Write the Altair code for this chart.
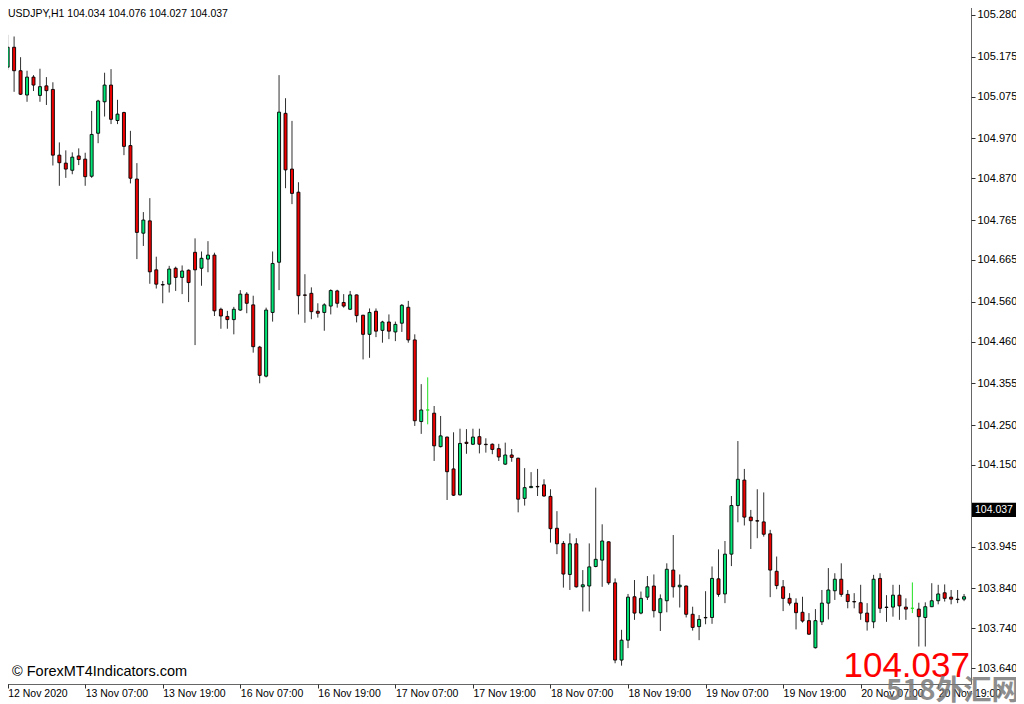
import altair as alt
import pandas as pd

# ---- data (USDJPY H1) ----
opens = [105.149, 105.199, 105.140, 105.079, 105.124, 105.078, 105.102, 105.093, 104.928, 104.908,
         104.890, 104.926, 104.918, 104.875, 104.983, 105.062, 105.104, 105.015, 105.035, 104.952,
         104.868, 104.732, 104.763, 104.640, 104.603, 104.604, 104.644, 104.621, 104.639, 104.684,
         104.644, 104.667, 104.677, 104.541, 104.523, 104.515, 104.539, 104.579, 104.552, 104.446,
         104.373, 104.533, 104.659, 105.033, 104.893, 104.835, 104.577, 104.581, 104.536, 104.533,
         104.549, 104.587, 104.558, 104.541, 104.577, 104.526, 104.478, 104.536, 104.488, 104.509,
         104.484, 104.506, 104.546, 104.464, 104.259, 104.288, 104.280, 104.196, 104.220, 104.140,
         104.075, 104.207, 104.202, 104.221, 104.202, 104.202, 104.191, 104.152, 104.175, 104.167,
         104.066, 104.093, 104.096, 104.100, 104.071, 103.991, 103.953, 103.875, 103.952, 103.844,
         103.846, 103.895, 103.911, 103.957, 103.854, 103.660, 103.710, 103.819, 103.778, 103.818,
         103.846, 103.779, 103.809, 103.886, 103.844, 103.846, 103.775, 103.744, 103.767, 103.767,
         103.864, 103.826, 103.926, 104.048, 104.112, 104.019, 104.010, 104.007, 103.977, 103.883,
         103.844, 103.815, 103.803, 103.780, 103.759, 103.691, 103.756, 103.803, 103.834, 103.863,
         103.825, 103.807, 103.804, 103.778, 103.756, 103.865, 103.793, 103.793, 103.823, 103.793,
         103.790, 103.788, 103.767, 103.794, 103.809, 103.829, 103.818, 103.813, 103.813]
highs = [105.230, 105.226, 105.174, 105.140, 105.129, 105.145, 105.124, 105.111, 104.960, 104.940,
         104.935, 104.945, 104.934, 105.039, 105.067, 105.135, 105.144, 105.067, 105.037, 104.989,
         104.908, 104.785, 104.820, 104.673, 104.612, 104.650, 104.648, 104.651, 104.641, 104.719,
         104.686, 104.712, 104.683, 104.545, 104.537, 104.547, 104.589, 104.584, 104.575, 104.449,
         104.545, 104.686, 105.129, 105.071, 105.014, 104.860, 104.629, 104.596, 104.556, 104.556,
         104.591, 104.590, 104.579, 104.587, 104.578, 104.527, 104.543, 104.543, 104.512, 104.528,
         104.510, 104.554, 104.562, 104.478, 104.353, 104.370, 104.298, 104.273, 104.221, 104.232,
         104.241, 104.240, 104.241, 104.241, 104.217, 104.204, 104.203, 104.206, 104.190, 104.168,
         104.142, 104.132, 104.140, 104.114, 104.089, 104.034, 103.959, 103.978, 103.966, 103.886,
         103.953, 104.093, 104.001, 103.958, 103.865, 103.736, 103.826, 103.861, 103.832, 103.871,
         103.875, 103.825, 103.903, 103.974, 103.875, 103.847, 103.794, 103.773, 103.833, 103.895,
         103.938, 103.959, 104.072, 104.210, 104.140, 104.037, 104.089, 104.081, 103.987, 103.920,
         103.861, 103.828, 103.815, 103.819, 103.778, 103.788, 103.836, 103.891, 103.878, 103.903,
         103.836, 103.828, 103.849, 103.803, 103.874, 103.878, 103.823, 103.849, 103.849, 103.815,
         103.855, 103.804, 103.805, 103.853, 103.849, 103.850, 103.836, 103.836, 103.826]
lows = [105.142, 105.087, 105.079, 105.062, 105.089, 105.062, 105.054, 104.902, 104.851, 104.871,
        104.880, 104.903, 104.851, 104.871, 104.958, 105.025, 105.006, 105.006, 104.928, 104.857,
        104.667, 104.700, 104.605, 104.593, 104.556, 104.583, 104.587, 104.579, 104.559, 104.451,
        104.600, 104.634, 104.524, 104.492, 104.492, 104.478, 104.537, 104.531, 104.432, 104.355,
        104.370, 104.510, 104.589, 104.845, 104.805, 104.528, 104.507, 104.516, 104.520, 104.487,
        104.528, 104.545, 104.545, 104.539, 104.508, 104.415, 104.419, 104.471, 104.457, 104.466,
        104.461, 104.484, 104.457, 104.248, 104.228, 104.252, 104.160, 104.194, 104.062, 104.072,
        104.073, 104.178, 104.200, 104.179, 104.181, 104.177, 104.160, 104.150, 104.158, 104.031,
        104.048, 104.092, 104.072, 104.070, 103.955, 103.926, 103.842, 103.836, 103.842, 103.782,
        103.782, 103.893, 103.844, 103.849, 103.652, 103.646, 103.690, 103.761, 103.775, 103.811,
        103.767, 103.733, 103.780, 103.817, 103.792, 103.767, 103.734, 103.710, 103.750, 103.751,
        103.819, 103.803, 103.896, 104.006, 103.998, 103.939, 103.966, 103.970, 103.818, 103.838,
        103.783, 103.797, 103.737, 103.754, 103.723, 103.689, 103.748, 103.762, 103.811, 103.819,
        103.790, 103.790, 103.761, 103.734, 103.740, 103.778, 103.756, 103.769, 103.761, 103.761,
        103.778, 103.694, 103.694, 103.793, 103.800, 103.807, 103.800, 103.803, 103.808]
closes = [105.199, 105.140, 105.081, 105.124, 105.104, 105.100, 105.090, 104.928, 104.909, 104.893,
          104.923, 104.917, 104.874, 104.980, 105.064, 105.104, 105.018, 105.031, 104.950, 104.870,
          104.734, 104.765, 104.635, 104.604, 104.602, 104.642, 104.621, 104.637, 104.608, 104.640,
          104.669, 104.677, 104.537, 104.524, 104.515, 104.541, 104.579, 104.556, 104.447, 104.375,
          104.539, 104.656, 105.036, 104.891, 104.832, 104.575, 104.576, 104.535, 104.531, 104.552,
          104.588, 104.556, 104.549, 104.577, 104.525, 104.478, 104.533, 104.486, 104.509, 104.486,
          104.503, 104.551, 104.464, 104.261, 104.288, 104.288, 104.198, 104.223, 104.133, 104.074,
          104.204, 104.204, 104.220, 104.202, 104.201, 104.189, 104.170, 104.175, 104.169, 104.064,
          104.093, 104.096, 104.095, 104.072, 103.990, 103.952, 103.876, 103.952, 103.844, 103.849,
          103.894, 103.913, 103.959, 103.854, 103.660, 103.710, 103.818, 103.778, 103.815, 103.844,
          103.784, 103.814, 103.888, 103.844, 103.848, 103.775, 103.742, 103.762, 103.766, 103.865,
          103.825, 103.926, 104.048, 104.114, 104.019, 104.010, 104.009, 103.976, 103.886, 103.847,
          103.815, 103.803, 103.779, 103.758, 103.725, 103.759, 103.803, 103.836, 103.863, 103.825,
          103.807, 103.806, 103.778, 103.756, 103.863, 103.790, 103.792, 103.823, 103.796, 103.788,
          103.790, 103.769, 103.794, 103.809, 103.826, 103.815, 103.813, 103.812, 103.819]

time_labels = ["12 Nov 2020", "13 Nov 07:00", "13 Nov 19:00", "16 Nov 07:00", "16 Nov 19:00",
               "17 Nov 07:00", "17 Nov 19:00", "18 Nov 07:00", "18 Nov 19:00", "19 Nov 07:00",
               "19 Nov 19:00", "20 Nov 07:00", "20 Nov 19:00"]
bars_per_label = 12
price_ticks = [105.280, 105.175, 105.075, 104.970, 104.870, 104.765, 104.665, 104.560, 104.460,
               104.355, 104.250, 104.150, 103.945, 103.840, 103.740, 103.640]
last_price = 104.037
header_text = "USDJPY,H1  104.034 104.076 104.027 104.037"
credit_text = "© ForexMT4Indicators.com"
watermark_text = "518外汇网"

# ---- chart ----
W, H = 969, 682
BULL, BEAR, DOJI = "#00E676", "#EE0000", "#22E022"
FONT = "Liberation Sans"

df = pd.DataFrame({"i": list(range(len(opens))), "open": opens, "high": highs,
                   "low": lows, "close": closes})

label_array = "[" + ",".join("'" + t + "'" for t in time_labels) + "]"
x_enc = alt.X("i:Q",
              scale=alt.Scale(domain=[-0.1, 148.3], nice=False, zero=False),
              axis=alt.Axis(values=[k * bars_per_label for k in range(len(time_labels))],
                            labelExpr=label_array + "[round(datum.value/%d)]" % bars_per_label,
                            title=None, grid=False, domain=False, ticks=True, tickSize=4,
                            tickColor="#333", labelAlign="left", labelBaseline="top",
                            labelPadding=0, labelFlush=False, labelOverlap=False,
                            labelFont=FONT, labelFontSize=10.5, labelColor="black"))
y_scale = alt.Scale(domain=[103.5999, 105.3126], nice=False, zero=False)
y_axis = alt.Axis(values=price_ticks, format=".3f", orient="right", title=None, grid=False,
                  domain=False, ticks=True, tickSize=4, tickColor="#333", labelPadding=2,
                  labelFont=FONT, labelFontSize=11, labelColor="black", labelOverlap=False,
                  labelFlush=False)

base = alt.Chart(df)
wicks = base.mark_rule(strokeWidth=1).encode(
    x=x_enc,
    y=alt.Y("low:Q", scale=y_scale, axis=y_axis),
    y2="high:Q",
    color=alt.condition("datum.open == datum.close", alt.value(DOJI), alt.value("#303030")),
)
bodies = base.mark_bar(size=3, strokeWidth=0.9).encode(
    x="i:Q",
    y=alt.Y("open:Q", scale=y_scale),
    y2="close:Q",
    fill=alt.condition("datum.close > datum.open", alt.value(BULL), alt.value(BEAR)),
    stroke=alt.condition("datum.open == datum.close", alt.value(DOJI), alt.value("black")),
)

one = pd.DataFrame({"p": [last_price]})
price_box = alt.Chart(one).mark_rect(color="black").encode(
    x=alt.value(W + 1), x2=alt.value(W + 45),
    y=alt.Y("hi:Q", scale=y_scale), y2="lo:Q",
).transform_calculate(hi="datum.p + 0.0178", lo="datum.p - 0.0178")
price_txt = alt.Chart(one).mark_text(align="left", baseline="middle", font=FONT, fontSize=10.5,
                                     color="white").encode(
    x=alt.value(W + 4), y=alt.Y("p:Q", scale=y_scale), text=alt.Text("p:Q", format=".3f"))

big_price = alt.Chart(one).mark_text(align="right", baseline="alphabetic", font=FONT,
                                     fontSize=35, color="#FF0000").encode(
    x=alt.value(W - 1), y=alt.value(675), text=alt.Text("p:Q", format=".3f"))

header = alt.Chart(pd.DataFrame({"t": [header_text]})).mark_text(
    align="left", baseline="alphabetic", font=FONT, fontSize=10.5, color="black").encode(
    x=alt.value(6), y=alt.value(15), text="t:N")
credit = alt.Chart(pd.DataFrame({"t": [credit_text]})).mark_text(
    align="left", baseline="alphabetic", font=FONT, fontSize=14.5, color="black").encode(
    x=alt.value(10), y=alt.value(674), text="t:N")
watermark = alt.Chart(pd.DataFrame({"t": [watermark_text]})).mark_text(
    align="left", baseline="alphabetic", font="Noto Sans CJK SC", fontSize=28, fontWeight="bold",
    color="#7a7a7a", opacity=0.85).encode(
    x=alt.value(884), y=alt.value(698), text="t:N")

chart = alt.layer(wicks, bodies, price_box, price_txt, big_price, header, credit, watermark).properties(
    width=W, height=H,
    autosize=alt.AutoSizeParams(type="none"),
    padding={"left": -6, "top": -6, "right": 45, "bottom": 20},
    background="white",
).configure_view(stroke="#666", strokeWidth=1)

chart.save("out.html", embed_options={"renderer": "svg", "actions": False})
